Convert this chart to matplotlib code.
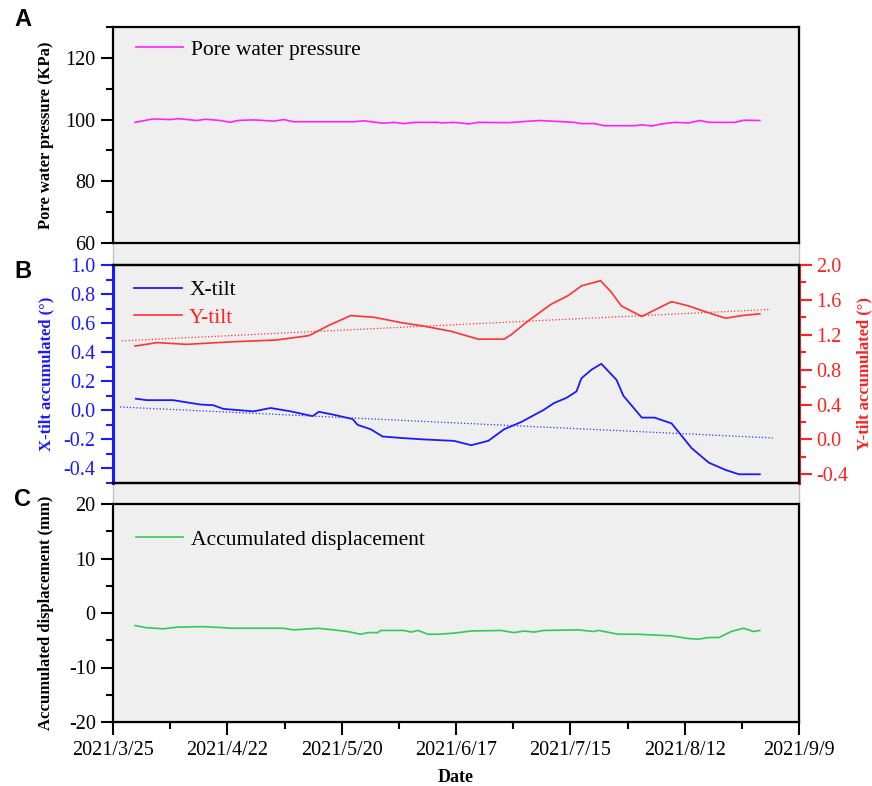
import matplotlib.pyplot as plt
import matplotlib.patches as mpatches
from matplotlib.ticker import MultipleLocator
import numpy as np
import pandas as pd

plt.rcParams['font.family'] = ['Liberation Serif', 'DejaVu Serif']
plt.rcParams['axes.unicode_minus'] = False

start = pd.Timestamp('2021-03-25')

# pore water pressure (KPa), day offsets from 2021/3/25
pwp_days = [5.4, 9.8, 14.0, 16.0, 20.6, 22.6, 26.3, 28.7, 30.5, 34.4,
            39.3, 41.8, 44.2, 50.9, 59.0, 61.4, 66.3, 68.8, 71.2, 73.7,
            79.6, 80.3, 83.5, 87.2, 89.4, 96.8, 104.4, 113.0, 114.7, 117.9,
            120.4, 127.7, 129.5, 131.9, 134.4, 137.6, 141.0, 143.7, 145.9, 152.3,
            154.5, 158.4]
pwp_vals = [99.1, 100.2, 100.0, 100.3, 99.7, 100.1, 99.7, 99.1, 99.7, 99.9,
            99.5, 100.0, 99.3, 99.3, 99.3, 99.6, 98.8, 99.1, 98.7, 99.1,
            99.1, 98.9, 99.1, 98.6, 99.1, 99.0, 99.7, 99.1, 98.7, 98.7,
            98.0, 98.0, 98.3, 97.9, 98.6, 99.1, 98.9, 99.7, 99.1, 99.1,
            99.8, 99.7]

# X-tilt accumulated (deg)
xt_days = [5.6, 8.3, 14.7, 21.4, 24.6, 27.0, 34.4, 38.6, 43.5, 48.9, 50.4, 54.0,
           58.7, 59.9, 63.1, 66.0, 70.5, 76.0, 83.5, 87.7, 91.9, 95.8, 100.0, 105.6,
           108.0, 111.0, 113.5, 114.7, 117.2, 119.6, 123.3, 125.0, 129.5, 132.6,
           136.8, 141.7, 145.9, 150.0, 153.3, 158.4]
xt_vals = [0.08, 0.07, 0.07, 0.04, 0.035, 0.01, -0.007, 0.016, -0.007, -0.04, -0.01, -0.03,
           -0.06, -0.10, -0.13, -0.18, -0.19, -0.20, -0.21, -0.24, -0.21, -0.13, -0.08, 0.005,
           0.05, 0.085, 0.13, 0.22, 0.28, 0.32, 0.21, 0.10, -0.05, -0.05,
           -0.09, -0.26, -0.36, -0.41, -0.44, -0.44]

# Y-tilt accumulated (deg)
yt_days = [5.4, 10.8, 18.0, 29.5, 40.0, 48.0, 52.5, 58.2, 64.0, 70.5, 76.0, 82.8,
           89.4, 95.8, 97.5, 101.7, 107.3, 111.5, 114.7, 119.4, 122.0, 124.5, 129.5,
           136.8, 141.0, 146.6, 150.0, 154.0, 158.4]
yt_vals = [1.07, 1.11, 1.09, 1.12, 1.14, 1.19, 1.30, 1.42, 1.40, 1.34, 1.30, 1.24,
           1.15, 1.15, 1.20, 1.36, 1.55, 1.65, 1.76, 1.82, 1.69, 1.53, 1.41,
           1.58, 1.53, 1.44, 1.39, 1.42, 1.44]

# linear trends (start / end)
xt_trend_days = [1.7, 161.6]
xt_trend_vals = [0.023, -0.19]
yt_trend_days = [2.2, 160.6]
yt_trend_vals = [1.13, 1.49]

# accumulated displacement (mm)
disp_days = [5.4, 8.3, 12.3, 15.7, 22.1, 29.5, 41.8, 44.2, 50.2, 54.0, 57.5, 60.7,
             62.4, 64.8, 65.6, 71.2, 73.0, 74.7, 77.1, 79.6, 83.5, 87.7,
             95.0, 98.2, 100.7, 103.1, 105.6, 114.0, 117.6, 118.9, 123.8, 128.7,
             136.8, 141.0, 143.4, 145.9, 148.4, 151.4, 154.4, 156.9, 158.4]
disp_vals = [-2.3, -2.7, -2.9, -2.6, -2.5, -2.8, -2.8, -3.1, -2.8, -3.1, -3.4, -3.9,
             -3.6, -3.6, -3.2, -3.2, -3.5, -3.2, -3.9, -3.9, -3.7, -3.3,
             -3.2, -3.6, -3.3, -3.5, -3.2, -3.1, -3.4, -3.2, -3.9, -3.9,
             -4.2, -4.7, -4.8, -4.5, -4.5, -3.4, -2.8, -3.4, -3.2]

tick_days = [0, 28, 56, 84, 112, 140, 168]
minor_days = [14, 42, 70, 98, 126, 154]
tick_labels = ['2021/3/25', '2021/4/22', '2021/5/20', '2021/6/17',
               '2021/7/15', '2021/8/12', '2021/9/9']


def to_dates(days):
    return start + pd.to_timedelta(np.array(days), unit='D')


W, H = 872, 786
fig = plt.figure(figsize=(W / 100, H / 100), dpi=100)

L, R = 113, 799


def box(top, bottom):
    return [L / W, 1 - bottom / H, (R - L) / W, (bottom - top) / H]


# grey backdrop behind the three panels (also fills the gaps)
bg = mpatches.Rectangle((L / W, 1 - 722 / H), (R - L) / W, (722 - 27) / H,
                        transform=fig.transFigure, facecolor='#efefef',
                        edgecolor='#c4c4c4', linewidth=1, zorder=-5)
fig.patches.append(bg)

axA = fig.add_axes(box(27, 243))
axB = fig.add_axes(box(265, 483))
axC = fig.add_axes(box(504, 722))

xmin, xmax = to_dates([0, 168])
ylab_x = -0.086

for ax in (axA, axB, axC):
    ax.set_facecolor('#efefef')
    ax.set_xlim(xmin, xmax)
    for s in ax.spines.values():
        s.set_linewidth(1.6)
    ax.tick_params(axis='y', which='major', direction='out', length=9, width=1.5, labelsize=14.5)
    ax.tick_params(axis='y', which='minor', direction='out', length=5, width=1.5)
    ax.tick_params(axis='x', which='both', bottom=False, labelbottom=False)

leg_kw = dict(frameon=False, fontsize=15.5, handlelength=2.2, handletextpad=0.35)

# panel A
axA.plot(to_dates(pwp_days), pwp_vals, color='#ff22ff', lw=1.2, label='Pore water pressure')
axA.set_ylim(60, 130)
axA.yaxis.set_major_locator(MultipleLocator(20))
axA.yaxis.set_minor_locator(MultipleLocator(10))
axA.set_ylabel('Pore water pressure (KPa)', fontsize=12, fontweight='bold')
axA.yaxis.set_label_coords(ylab_x, 0.5)
axA.legend(loc='upper left', bbox_to_anchor=(0.011, 1.01), borderaxespad=0.3, **leg_kw)

# panel B
axB.plot(to_dates(xt_days), xt_vals, color='#1a1aff', lw=1.3, label='X-tilt')
axB.plot(to_dates(xt_trend_days), xt_trend_vals, color='#3333ff', lw=0.9, ls=':')
axB.set_ylim(-0.5, 1.0)
axB.yaxis.set_major_locator(MultipleLocator(0.2))
axB.yaxis.set_minor_locator(MultipleLocator(0.1))
axB.yaxis.set_major_formatter('{x:.1f}')
axB.tick_params(axis='y', which='both', colors='#1a1aff')
axB.spines['left'].set_color('#1a1aff')
axB.spines['left'].set_linewidth(2.2)
axB.set_ylabel('X-tilt accumulated (°)', fontsize=12, fontweight='bold', color='#1a1aff')
axB.yaxis.set_label_coords(ylab_x, 0.5)

axB2 = axB.twinx()
axB2.set_xlim(xmin, xmax)
axB2.plot(to_dates(yt_days), yt_vals, color='#ff3333', lw=1.2, label='Y-tilt')
axB2.plot(to_dates(yt_trend_days), yt_trend_vals, color='#ff3333', lw=0.9, ls=':')
axB2.set_ylim(-0.5, 2.0)
axB2.yaxis.set_major_locator(MultipleLocator(0.4))
axB2.yaxis.set_minor_locator(MultipleLocator(0.2))
axB2.yaxis.set_major_formatter('{x:.1f}')
axB2.tick_params(axis='y', which='major', direction='out', length=9, width=1.5,
                 labelsize=14.5, colors='#ff2020')
axB2.tick_params(axis='y', which='minor', direction='out', length=5, width=1.5, colors='#ff2020')
axB2.spines['right'].set_color('#ff2020')
axB2.spines['right'].set_linewidth(2.2)
axB2.spines['left'].set_color('#1a1aff')
axB2.spines['left'].set_linewidth(2.2)
axB2.spines['top'].set_linewidth(1.6)
axB2.spines['bottom'].set_linewidth(1.6)
axB2.set_ylabel('Y-tilt accumulated (°)', fontsize=12, fontweight='bold', color='#ff2020')
axB2.yaxis.set_label_coords(1.083, 0.5)

hx, = axB.get_legend_handles_labels()[0]
hy, = axB2.get_legend_handles_labels()[0]
legB = axB.legend([hx, hy], ['X-tilt', 'Y-tilt'], loc='upper left',
                  bbox_to_anchor=(0.009, 1.0), borderaxespad=0.3, labelspacing=0.35, **leg_kw)
legB.get_texts()[1].set_color('#ff2020')
axB.set_zorder(axB2.get_zorder() + 1)
axB.patch.set_visible(False)

# panel C
axC.plot(to_dates(disp_days), disp_vals, color='#2ecc5a', lw=1.2, label='Accumulated displacement')
axC.set_ylim(-20, 20)
axC.yaxis.set_major_locator(MultipleLocator(10))
axC.yaxis.set_minor_locator(MultipleLocator(5))
axC.set_ylabel('Accumulated displacement (mm)', fontsize=12, fontweight='bold')
axC.yaxis.set_label_coords(ylab_x, 0.5)
axC.legend(loc='upper left', bbox_to_anchor=(0.011, 0.952), borderaxespad=0.3, **leg_kw)

axC.set_xticks(to_dates(tick_days))
axC.set_xticklabels(tick_labels)
axC.set_xticks(to_dates(minor_days), minor=True)
axC.tick_params(axis='x', which='major', bottom=True, labelbottom=True, direction='out',
                length=9, width=1.5, labelsize=14.5, pad=5)
axC.tick_params(axis='x', which='minor', bottom=True, direction='out', length=5, width=1.5)
axC.set_xlabel('Date', fontsize=13, fontweight='bold', labelpad=6)

for txt, y in (('A', 20), ('B', 272), ('C', 500)):
    fig.text(14 / W, 1 - y / H, txt, fontsize=17, fontweight='bold',
             family=['Liberation Sans', 'DejaVu Sans'], ha='left', va='center')

fig.savefig('out.png', dpi=100)
